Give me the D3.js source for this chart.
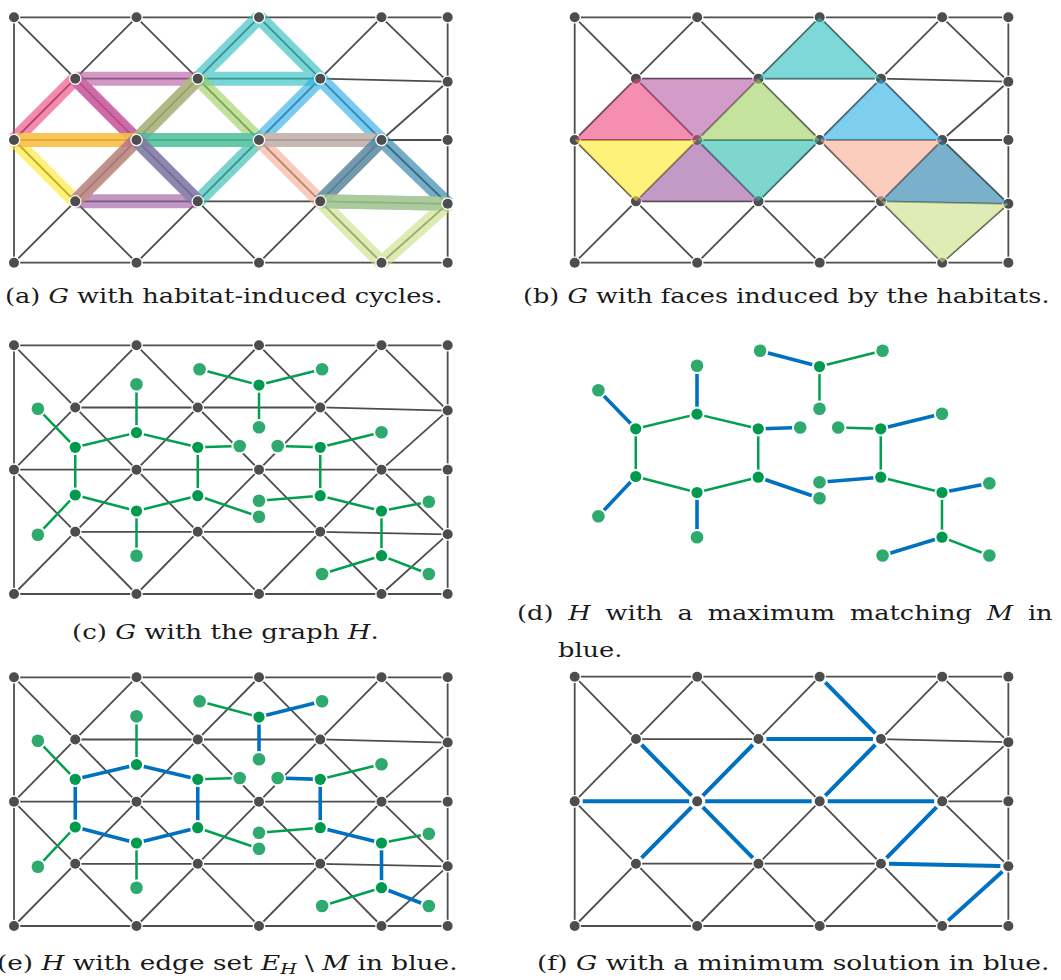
<!DOCTYPE html>
<html>
<head>
<meta charset="utf-8">
<script src="https://cdn.jsdelivr.net/npm/d3@7"></script>
<style>
  body { margin: 0; background: #fff; }
  svg { display: block; }
  .cap { font-family: "DejaVu Serif", serif; font-size: 19.5px; fill: #1a1a1a; }
</style>
</head>
<body>
<svg id="fig" width="1061" height="980"></svg>
<script>
// ---- data ----
// G vertices: id, column u (0..6 lattice, R = right border), row v
const gVertices = [
  ["A0", 0, 0], ["C0", 2, 0], ["E0", 4, 0], ["G0", 6, 0], ["R0", 7.08, 0],
  ["B1", 1, 1], ["D1", 3, 1], ["F1", 5, 1], ["R1", 7.08, 1.05],
  ["A2", 0, 2], ["C2", 2, 2], ["E2", 4, 2], ["G2", 6, 2], ["R2", 7.08, 2],
  ["B3", 1, 3], ["D3", 3, 3], ["F3", 5, 3], ["R3", 7.08, 3.04],
  ["A4", 0, 4], ["C4", 2, 4], ["E4", 4, 4], ["G4", 6, 4], ["R4", 7.08, 4]
];

const gEdges = [
  ["A0","C0"],["C0","E0"],["E0","G0"],["G0","R0"],
  ["A4","C4"],["C4","E4"],["E4","G4"],["G4","R4"],
  ["A0","A2"],["A2","A4"],
  ["R0","R1"],["R1","R2"],["R2","R3"],["R3","R4"],
  ["B1","D1"],["D1","F1"],["F1","R1"],
  ["A2","C2"],["C2","E2"],["E2","G2"],["G2","R2"],
  ["B3","D3"],["D3","F3"],["F3","R3"],
  ["A0","B1"],["C0","B1"],["C0","D1"],["E0","D1"],["E0","F1"],["G0","F1"],["G0","R1"],
  ["B1","A2"],["B1","C2"],["D1","C2"],["D1","E2"],["F1","E2"],["F1","G2"],["R1","G2"],
  ["A2","B3"],["C2","B3"],["C2","D3"],["E2","D3"],["E2","F3"],["G2","F3"],["G2","R3"],
  ["B3","A4"],["B3","C4"],["D3","C4"],["D3","E4"],["F3","E4"],["F3","G4"],["R3","G4"]
];

// habitat faces, in drawing order
const faceNames = ["cyan","pink","purple1","lgreen","lblue","yellow","teal","purple2","peach","steel","ygreen"];
const faceVerts = [
  ["E0","D1","F1"], ["B1","A2","C2"], ["B1","D1","C2"], ["D1","C2","E2"],
  ["F1","E2","G2"], ["A2","C2","B3"], ["C2","E2","D3"], ["C2","B3","D3"],
  ["E2","G2","F3"], ["G2","F3","R3"], ["F3","R3","G4"]
];
const faceColors = ["#2abebe","#ee447d","#b658a3","#9ecf5f","#28ade6","#ffe921",
                    "#2abbaf","#9b579e","#f8ac91","#217ba5","#cbdf84"];

// H nodes: id, u, v, kind (f = face node, l = leaf)
const hNodes = [
  ["cyan", 4, 0.639, "f"], ["purple1", 2, 1.405, "f"], ["pink", 1, 1.641, "f"],
  ["lgreen", 3, 1.641, "f"], ["lblue", 5, 1.641, "f"], ["yellow", 1, 2.408, "f"],
  ["purple2", 2, 2.665, "f"], ["teal", 3, 2.419, "f"], ["peach", 5, 2.419, "f"],
  ["steel", 6, 2.665, "f"], ["ygreen", 6, 3.384, "f"],
  ["la", 3.03, 0.386, "l"], ["lb", 5.03, 0.386, "l"], ["lc", 4, 1.319, "l"],
  ["ld", 2, 0.627, "l"], ["le", 0.39, 1.02, "l"], ["lf", 3.685, 1.62, "l"],
  ["lg", 4.305, 1.62, "l"], ["lh", 6, 1.399, "l"], ["li", 4, 2.499, "l"],
  ["lj", 4, 2.757, "l"], ["lk", 0.39, 3.046, "l"], ["ll", 2, 3.384, "l"],
  ["lm", 6.773, 2.516, "l"], ["ln", 5.03, 3.678, "l"], ["lo", 6.773, 3.678, "l"]
];

const hEdges = [
  ["pink","purple1"],["purple1","lgreen"],["pink","yellow"],["lgreen","teal"],
  ["yellow","purple2"],["purple2","teal"],["lblue","peach"],["peach","steel"],["steel","ygreen"],
  ["cyan","la"],["cyan","lb"],["cyan","lc"],["purple1","ld"],["pink","le"],["lgreen","lf"],
  ["lblue","lg"],["lblue","lh"],["yellow","lk"],["purple2","ll"],["teal","lj"],["peach","li"],
  ["steel","lm"],["ygreen","ln"],["ygreen","lo"]
];

// maximum matching M
const matching = [
  ["cyan","la"],["purple1","ld"],["pink","le"],["lgreen","lf"],["lblue","lh"],["yellow","lk"],
  ["purple2","ll"],["teal","lj"],["peach","li"],["steel","lm"],["ygreen","ln"]
];

// minimum solution in G
const solution = [
  ["E0","F1"],["D1","F1"],["B1","C2"],["D1","C2"],["F1","E2"],["A2","C2"],["C2","E2"],
  ["E2","G2"],["C2","B3"],["C2","D3"],["G2","F3"],["F3","R3"],["R3","G4"]
];

// ---- layout ----
const layout = {
  a: {x: [14, 381.5], y: [17.3, 262.7]},
  b: {x: [574.7, 942.2], y: [17.3, 262.7]},
  c: {x: [14, 381.5], y: [345.3, 594]},
  d: {x: [574.5, 942], y: [326.8, 575.5]},
  e: {x: [14, 381.5], y: [677.3, 926]},
  f: {x: [574.7, 942.2], y: [676.7, 926]}
};

const GRAY = "#4d4d4d", GREEN = "#00a04f", BLUE = "#0070c0";
const svg = d3.select("#fig");
const pos = new Map();
gVertices.forEach(d => pos.set(d[0], d));
hNodes.forEach(d => pos.set(d[0], d));
const key = (a, b) => [a, b].sort().join("|");
const mSet = new Set(matching.map(d => key(d[0], d[1])));
const solSet = new Set(solution.map(d => key(d[0], d[1])));

function frame(p) {
  const x = d3.scaleLinear().domain([0, 6]).range(p.x);
  const y = d3.scaleLinear().domain([0, 4]).range(p.y);
  const g = svg.append("g");
  const P = id => { const q = pos.get(id); return [x(q[1]), y(q[2])]; };
  return {g, x, y, P};
}

// draws edges; stroke/width may be constants or functions of the edge
function lines(f, data, stroke, width, shorten) {
  const sf = typeof stroke === "function" ? stroke : () => stroke;
  const wf = typeof width === "function" ? width : () => width;
  f.g.append("g").selectAll("line").data(data).join("line")
    .each(function(d) {
      let [x1, y1] = f.P(d[0]), [x2, y2] = f.P(d[1]);
      if (shorten) {
        const L = Math.hypot(x2 - x1, y2 - y1), ux = (x2 - x1) / L, uy = (y2 - y1) / L;
        x1 += ux * shorten; y1 += uy * shorten; x2 -= ux * shorten; y2 -= uy * shorten;
      }
      d3.select(this).attr("x1", x1).attr("y1", y1).attr("x2", x2).attr("y2", y2);
    })
    .attr("stroke", sf)
    .attr("stroke-width", wf)
    .attr("stroke-linecap", "butt");
}

function gVerts(f) {
  f.g.append("g").selectAll("circle").data(gVertices).join("circle")
    .attr("cx", d => f.P(d[0])[0]).attr("cy", d => f.P(d[0])[1])
    .attr("r", 5).attr("fill", GRAY)
    .attr("stroke", "#fff").attr("stroke-width", 2.6).attr("paint-order", "stroke");
}

function hGraph(f, isBlue) {
  lines(f, hEdges, d => isBlue(d) ? BLUE : GREEN, d => isBlue(d) ? 3.6 : 2.5);
  f.g.append("g").selectAll("circle").data(hNodes).join("circle")
    .attr("cx", d => f.P(d[0])[0]).attr("cy", d => f.P(d[0])[1])
    .attr("r", d => d[3] === "f" ? 5.6 : 6.3)
    .attr("fill", d => d[3] === "f" ? "#009a4e" : "#2eaa6e")
    .attr("stroke", "#fff").attr("stroke-width", 4).attr("paint-order", "stroke");
}

// (a) habitat-induced cycles
const fa = frame(layout.a);
lines(fa, gEdges, GRAY, 1.8);
faceVerts.forEach((vs, i) => {
  const gg = fa.g.append("g").attr("opacity", 0.62);
  [[0, 1], [1, 2], [2, 0]].forEach(([s, t]) => {
    const [x1, y1] = fa.P(vs[s]), [x2, y2] = fa.P(vs[t]);
    gg.append("line").attr("x1", x1).attr("y1", y1).attr("x2", x2).attr("y2", y2)
      .attr("stroke", faceColors[i]).attr("stroke-width", 14).attr("stroke-linecap", "butt");
  });
});
gVerts(fa);

// (b) faces
const fb = frame(layout.b);
lines(fb, gEdges, GRAY, 1.8);
gVerts(fb);
fb.g.append("g").selectAll("path").data(faceVerts).join("path")
  .attr("d", vs => "M" + vs.map(v => fb.P(v).join(",")).join("L") + "Z")
  .attr("fill", (d, i) => faceColors[i]).attr("fill-opacity", 0.6);

// (c) G with H
const fc = frame(layout.c);
lines(fc, gEdges, GRAY, 1.8);
gVerts(fc);
hGraph(fc, () => false);

// (d) H with matching
const fd = frame(layout.d);
hGraph(fd, d => mSet.has(key(d[0], d[1])));

// (e) H with E_H \ M
const fe = frame(layout.e);
lines(fe, gEdges, GRAY, 1.8);
gVerts(fe);
hGraph(fe, d => !mSet.has(key(d[0], d[1])));

// (f) minimum solution
const ff = frame(layout.f);
lines(ff, gEdges.filter(d => !solSet.has(key(d[0], d[1]))), GRAY, 1.8);
gVerts(ff);
lines(ff, solution, BLUE, 4, 8);

// ---- captions ----
function caption(x, y, parts, width, k) {
  const t = svg.append("text").attr("class", "cap");
  let sub = false;
  parts.forEach(p => {
    const s = t.append("tspan").text(p[0]);
    if (p[1] === "i") s.attr("font-style", "italic");
    if (p[1] === "sub") { s.attr("font-style", "italic").attr("font-size", 14).attr("dy", 4); sub = true; }
    else if (sub) { s.attr("dy", -4); sub = false; }
  });
  const n = t.node().getComputedTextLength();
  let sx = width ? width / n : k;
  if (width && k) {
    sx = k;
    const gaps = parts.map(p => p[0]).join("").split(" ").length - 1;
    t.attr("word-spacing", (width / k - n) / gaps);
  }
  t.attr("transform", `translate(${x},${y}) scale(${sx},1)`);
  return sx;
}

const ka = caption(5, 302.5, [["(a) "], ["G", "i"], [" with habitat-induced cycles."]], 438);
caption(523, 302.5, [["(b) "], ["G", "i"], [" with faces induced by the habitats."]], 527);
caption(72, 639, [["(c) "], ["G", "i"], [" with the graph "], ["H", "i"], ["."]], 307);
caption(517, 620, [["(d) "], ["H", "i"], [" with a maximum matching "], ["M", "i"], [" in"]], 536, ka);
caption(558, 657, [["blue."]], null, ka);
caption(-3, 970, [["(e) "], ["H", "i"], [" with edge set "], ["E", "i"], ["H", "sub"], [" \\ "], ["M", "i"], [" in blue."]], 461);
caption(537, 970, [["(f) "], ["G", "i"], [" with a minimum solution in blue."]], 513);
</script>
</body>
</html>
